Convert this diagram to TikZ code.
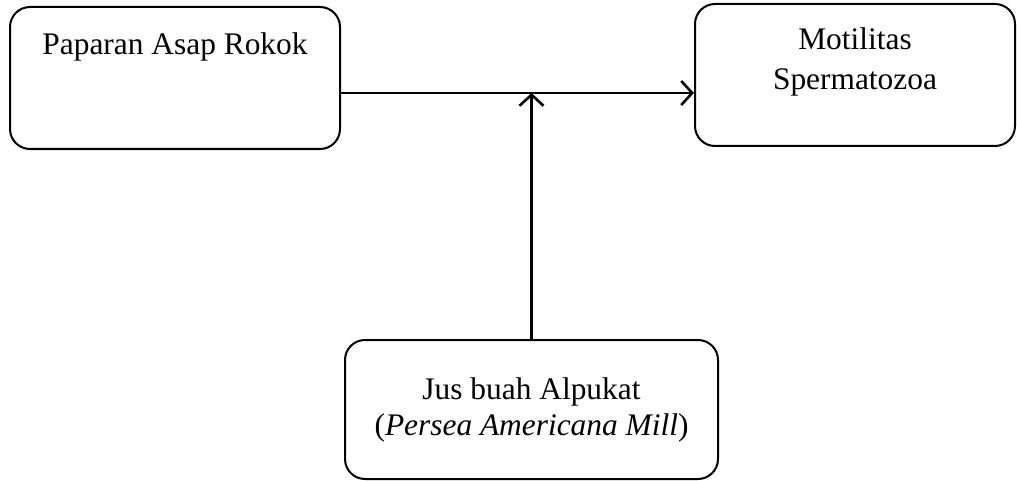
\documentclass[tikz,border=0pt]{standalone}
\usepackage{fontspec}
\setmainfont{Liberation Serif}
\usetikzlibrary{positioning,arrows.meta}

\begin{document}
\begin{tikzpicture}[x=1pt,y=1pt,
    box/.style={rectangle,draw,line width=1pt,rounded corners=10pt,inner sep=0pt},
    txt/.style={align=center,inner sep=0pt,font=\fontsize{15.7}{20}\selectfont},
    arr/.style={line width=1.3pt,-{Straight Barb[length=5.5pt,width=12pt]}}]
  \useasboundingbox (0,0) rectangle (508.5,-240.5);
  \node[box,minimum width=165pt,minimum height=71pt] (rokok) at (87.5,-39) {};
  \node[box,minimum width=160pt,minimum height=71pt] (motil) at (427.5,-37.5) {};
  \node[box,minimum width=186.5pt,minimum height=69.5pt] (alpukat) at (265.75,-204.75) {};
  \node[txt,below=13.3pt of rokok.north] (rokoktxt) {Paparan Asap Rokok};
  \node[txt,below=12.3pt of motil.north] (motiltxt) {Motilitas\\Spermatozoa};
  \node[txt,below=19.3pt of alpukat.north] (alpukattxt) {Jus buah Alpukat\\[-2pt](\textit{Persea Americana Mill})};
  \coordinate (temu) at (265.75,-46.5);
  \draw[arr] (rokok.east |- temu) -- (motil.west |- temu);
  \draw[arr] (alpukat.north) -- (temu);
\end{tikzpicture}
\end{document}
